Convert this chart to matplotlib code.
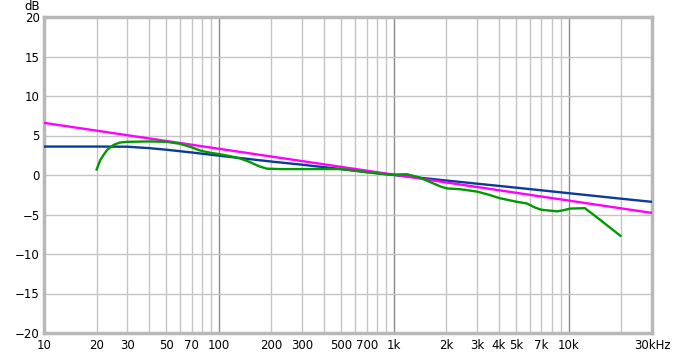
import numpy as np
import matplotlib
import matplotlib.pyplot as plt
from matplotlib.ticker import FixedLocator, NullFormatter

matplotlib.use('Agg')

# target (magenta) line, straight in log-frequency
target_freq = [10, 30000]
target_db = [6.6, -4.8]

# blue curve
blue_freq = [10, 20, 30, 40, 50, 70, 100, 200, 300, 500, 700, 1000,
             2000, 3000, 5000, 10000, 20000, 30000]
blue_db = [3.6, 3.6, 3.58, 3.4, 3.2, 2.85, 2.45, 1.7, 1.3, 0.75, 0.37, 0.0,
           -0.7, -1.1, -1.6, -2.3, -3.0, -3.4]

# green measured curve
green_freq = [20, 21, 22, 23, 25, 27, 30, 40, 50, 60, 70, 78, 90, 100, 115,
              132, 150, 170, 188, 224, 300, 500, 600, 700, 850, 1000, 1185,
              1400, 1620, 1850, 2020, 2400, 3000, 3500, 4060, 5080, 5770,
              6400, 6990, 8600, 9400, 10200, 12400, 15000, 19800]
green_db = [0.7, 1.9, 2.6, 3.2, 3.8, 4.1, 4.2, 4.25, 4.2, 3.95, 3.5, 3.1,
            2.8, 2.65, 2.4, 2.1, 1.65, 1.1, 0.8, 0.75, 0.75, 0.75, 0.55, 0.35,
            0.15, 0.05, 0.1, -0.3, -0.9, -1.45, -1.7, -1.8, -2.1, -2.5, -2.95,
            -3.4, -3.6, -4.1, -4.4, -4.6, -4.45, -4.25, -4.2, -5.6, -7.7]

x_ticks = [10, 20, 30, 50, 70, 100, 200, 300, 500, 700, 1000, 2000, 3000,
           4000, 5000, 7000, 10000, 30000]
x_labels = ['10', '20', '30', '50', '70', '100', '200', '300', '500', '700',
            '1k', '2k', '3k', '4k', '5k', '7k', '10k', '30kHz']
y_ticks = [-20, -15, -10, -5, 0, 5, 10, 15, 20]

minor_grid = [20, 30, 40, 50, 60, 70, 80, 90,
              200, 300, 400, 500, 600, 700, 800, 900,
              2000, 3000, 4000, 5000, 6000, 7000, 8000, 9000, 20000]
major_grid = [100, 1000, 10000]

fig = plt.figure(figsize=(6.73, 3.57), dpi=100)
ax = fig.add_axes([44 / 673, 1 - 333 / 357, 608 / 673, 316 / 357])
ax.set_xscale('log')
ax.set_xlim(10, 30000)
ax.set_ylim(-20, 20)

# grid
for f in minor_grid:
    ax.axvline(f, color='#c4c4c4', lw=1.0, zorder=1)
for f in major_grid:
    ax.axvline(f, color='#8a8a8a', lw=1.0, zorder=1)
for y in y_ticks[1:-1]:
    ax.axhline(y, color='#c4c4c4', lw=1.0, zorder=1)

ax.plot(blue_freq, blue_db, color='#0a3a9a', lw=1.7, zorder=3)
ax.plot(target_freq, target_db, color='#ff00ff', lw=1.7, zorder=4)
ax.plot(green_freq, green_db, color='#009a00', lw=1.7, zorder=5)

ax.xaxis.set_major_locator(FixedLocator(x_ticks))
ax.set_xticklabels(x_labels)
ax.xaxis.set_minor_formatter(NullFormatter())
ax.xaxis.set_minor_locator(FixedLocator([]))
ax.set_yticks(y_ticks)
ax.tick_params(axis='both', length=0, labelsize=8.5, colors='#000000')
ax.tick_params(axis='x', pad=4)
ax.tick_params(axis='y', pad=3)

for side in ['left', 'top', 'right', 'bottom']:
    ax.spines[side].set_color('#b8b8b8')
    ax.spines[side].set_linewidth(2.5)

fig.text(40 / 673, 1 - 6 / 357, 'dB', ha='right', va='center', fontsize=8.5)

fig.savefig('out.png', dpi=100)
